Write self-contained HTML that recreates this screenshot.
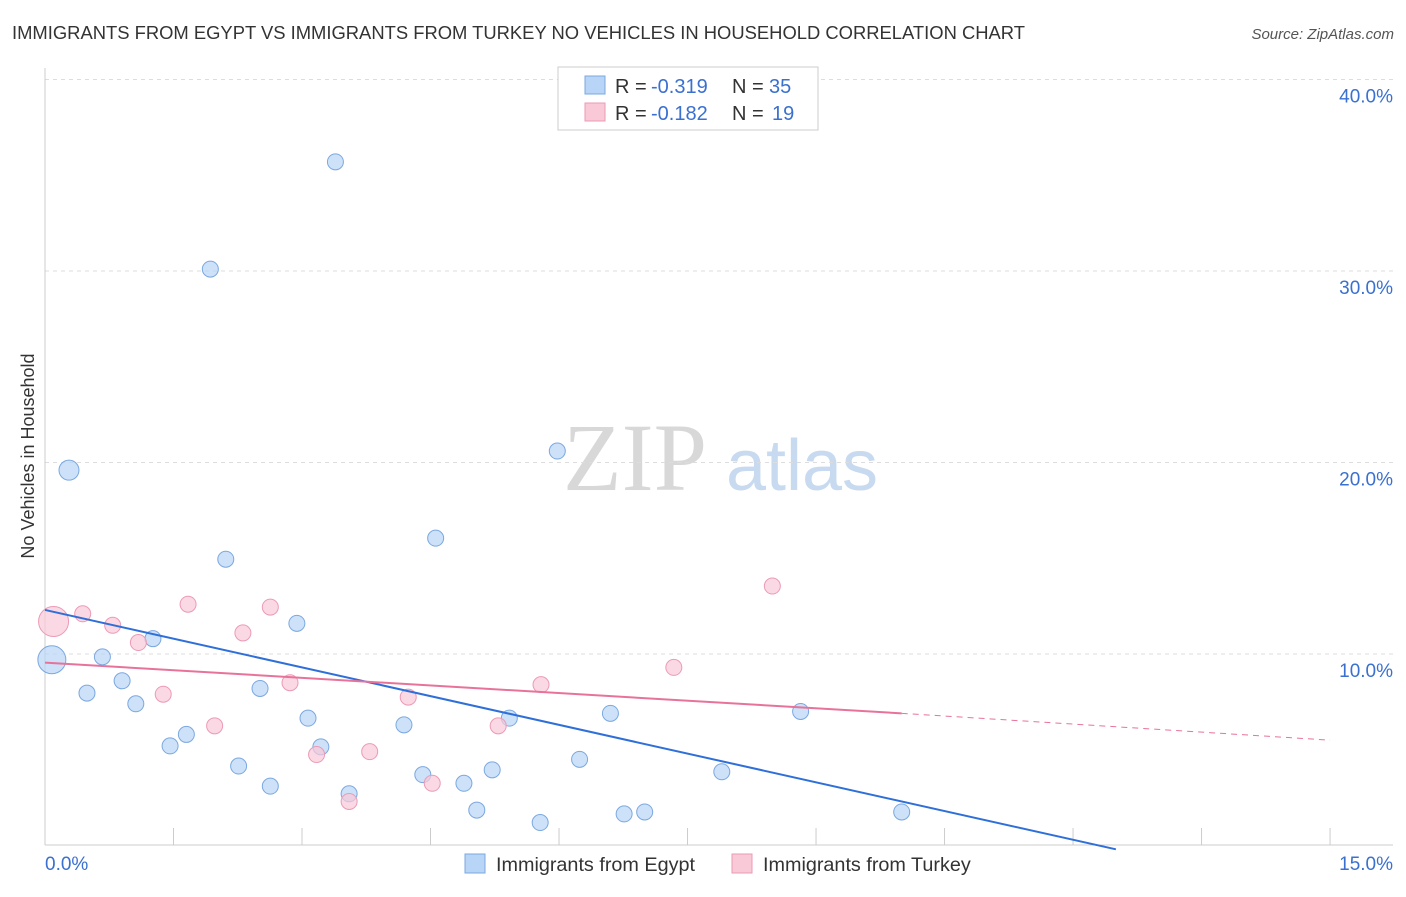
<!DOCTYPE html>
<html><head><meta charset="utf-8"><style>
body{margin:0;background:#fff;font-family:"Liberation Sans",sans-serif}
</style></head><body>
<svg width="1406" height="892" xmlns="http://www.w3.org/2000/svg" id="chart" style="font-family:'Liberation Sans',sans-serif">
<text x="12" y="39" font-size="18.4" fill="#333">IMMIGRANTS FROM EGYPT VS IMMIGRANTS FROM TURKEY NO VEHICLES IN HOUSEHOLD CORRELATION CHART</text>
<text x="1394" y="39" font-size="15" fill="#555" font-style="italic" text-anchor="end">Source: ZipAtlas.com</text>
<text x="34" y="456" font-size="18" fill="#333" text-anchor="middle" transform="rotate(-90 34 456)">No Vehicles in Household</text>
<g><text x="635" y="490" font-size="96" style="font-family:'Liberation Serif',serif" fill="#d8d8d8" text-anchor="middle">ZIP</text><text x="802" y="490" font-size="72" fill="#c8daf0" text-anchor="middle">atlas</text></g>
<g id="grid"></g><g id="axes"></g><g id="marks"></g>
<g>
<rect x="558" y="67" width="260" height="63" fill="#fff" stroke="#ccc"/>
<rect x="585" y="76" width="20" height="18" fill="#b8d4f6" stroke="#7aa8e0"/>
<rect x="585" y="103" width="20" height="18" fill="#f9c9d8" stroke="#ec9ab5"/>
<text x="615" y="93" font-size="20" fill="#333">R =</text><text x="651" y="93" font-size="20" fill="#3a70d0">-0.319</text>
<text x="732" y="93" font-size="20" fill="#333">N =</text><text x="769" y="93" font-size="20" fill="#3a70d0">35</text>
<text x="615" y="120" font-size="20" fill="#333">R =</text><text x="651" y="120" font-size="20" fill="#3a70d0">-0.182</text>
<text x="732" y="120" font-size="20" fill="#333">N =</text><text x="772" y="120" font-size="20" fill="#3a70d0">19</text>
</g>
<g>
<rect x="465" y="854" width="20" height="19" fill="#b8d4f6" stroke="#7aa8e0"/>
<text x="496" y="871" font-size="19.8" fill="#333">Immigrants from Egypt</text>
<rect x="732" y="854" width="20" height="19" fill="#f9c9d8" stroke="#ec9ab5"/>
<text x="763" y="871" font-size="19.8" fill="#333">Immigrants from Turkey</text>
</g>
</svg>
<script>
const yTicks=[10,20,30,40];
const xTickLabels=["0.0%","15.0%"];
const egyptX=[3.39,1.93,0.28,5.98,2.11,4.56,2.94,1.26,0.08,0.67,0.90,0.49,1.06,2.51,3.07,4.19,5.42,6.6,8.82,1.65,1.46,3.22,2.26,6.24,5.22,4.41,7.9,2.63,4.89,3.55,5.04,6.76,7.0,10.0,5.78];
const egyptY=[35.7,30.1,19.6,20.6,14.95,16.05,11.6,10.8,9.7,9.85,8.6,7.96,7.4,8.2,6.65,6.3,6.65,6.9,7.0,5.8,5.2,5.15,4.15,4.5,3.95,3.7,3.85,3.1,3.25,2.7,1.85,1.65,1.75,1.75,1.2];
const egyptR=[9,9,11,9,9,9,9,9,15,9,9,9,9,9,9,9,9,9,9,9,9,9,9,9,9,9,9,9,9,9,9,9,9,9,9];
const turkeyX=[0.1,0.44,0.79,1.09,1.67,2.31,2.63,1.38,2.86,1.98,3.17,3.79,4.24,5.29,4.52,3.55,5.79,7.34,8.49];
const turkeyY=[11.7,12.1,11.5,10.6,12.6,11.1,12.45,7.9,8.5,6.25,4.75,4.9,7.75,6.25,3.25,2.3,8.4,9.3,13.55];
const turkeyR=[16,9,9,9,9,9,9,9,9,9,9,9,9,9,9,9,9,9,9];
const egyptTrend=[12.3,-0.2,12.5];
const turkeyTrend=[9.55,6.9,10.0,5.5,15.0];
const X=v=>45+v*85.67, Y=v=>845.5-v*19.15;
const NS="http://www.w3.org/2000/svg";
function mk(p,t,a){const e=document.createElementNS(NS,t);for(const k in a)e.setAttribute(k,a[k]);document.getElementById(p).appendChild(e);return e;}
yTicks.forEach(t=>{
 const l=mk('grid','line',{x1:45,x2:1393,y1:Y(t),y2:Y(t),stroke:'#ddd','stroke-dasharray':'4,4'});
 
 
 const tx=mk('axes','text',{x:1393,y:Y(t)+23,'font-size':19,fill:'#3a70d0','text-anchor':'end'});tx.textContent=t.toFixed(1)+'%';
 
 
});
mk('axes','line',{x1:45,x2:45,y1:68,y2:845,stroke:'#ccc'});
mk('axes','line',{x1:45,x2:1393,y1:845,y2:845,stroke:'#ccc'});
for(let i=1;i<=10;i++){const l=mk('axes','line',{x1:X(i*1.5),x2:X(i*1.5),y1:828,y2:845,stroke:'#ccc'});
 
 }
let t0=mk('axes','text',{x:45,y:870,'font-size':19,fill:'#3a70d0'});t0.textContent=xTickLabels[0];
let t1=mk('axes','text',{x:1393,y:870,'font-size':19,fill:'#3a70d0','text-anchor':'end'});t1.textContent=xTickLabels[1];
egyptX.forEach((v,i)=>{const c=mk('marks','circle',{cx:X(v),cy:Y(egyptY[i]),r:egyptR[i]-1,fill:'rgba(184,212,246,0.7)',stroke:'#7aa8e0','stroke-width':1});
 
 });
turkeyX.forEach((v,i)=>{const c=mk('marks','circle',{cx:X(v),cy:Y(turkeyY[i]),r:turkeyR[i]-1,fill:'rgba(249,201,216,0.7)',stroke:'#ec9ab5','stroke-width':1});
 
 });
const eL=mk('marks','line',{x1:X(0),y1:Y(egyptTrend[0]),x2:X(egyptTrend[2]),y2:Y(egyptTrend[1]),stroke:'#2f6fd8','stroke-width':2});


const tL=mk('marks','line',{x1:X(0),y1:Y(turkeyTrend[0]),x2:X(turkeyTrend[2]),y2:Y(turkeyTrend[1]),stroke:'#e8739a','stroke-width':2});


const tD=mk('marks','line',{x1:X(turkeyTrend[2]),y1:Y(turkeyTrend[1]),x2:X(turkeyTrend[4]),y2:Y(turkeyTrend[3]),stroke:'#e8739a','stroke-width':1,'stroke-dasharray':'6,5'});


</script>
</body></html>
